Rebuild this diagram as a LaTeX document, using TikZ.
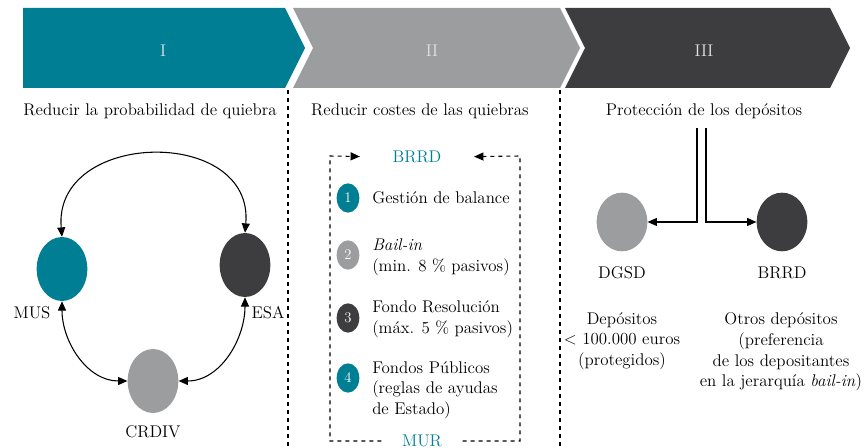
\documentclass[tikz,border=0pt]{standalone}
\usepackage{tikz}
\usetikzlibrary{shapes.geometric,arrows.meta}
\definecolor{bdeteal}{RGB}{0,126,147}
\definecolor{bdegrey}{RGB}{156,157,159}
\definecolor{bdedark}{RGB}{61,61,63}

\begin{document}
\begin{tikzpicture}[x=0.75pt,y=-0.75pt,
  >={Triangle[length=7pt,width=6pt]},
  every node/.style={font=\fontsize{12.7}{15.5}\selectfont},
  blob/.style={ellipse,minimum width=38pt,minimum height=48pt,inner sep=0pt},
  numdot/.style={ellipse,minimum width=17pt,minimum height=22pt,inner sep=0pt,
                 text=white,font=\fontsize{11}{13}\selectfont},
  bandlabel/.style={text=white!88!black},
  item/.style={anchor=west,align=left,inner sep=0pt},
  link/.style={line width=0.8pt},
  sepline/.style={dashed,line width=0.8pt}]
  \useasboundingbox (0,0) rectangle (864,448);
  % bands
  \fill[bdeteal] (23,8) -- (285,8) -- (305,48) -- (285,88) -- (23,88) -- cycle;
  \fill[bdegrey] (293,8) -- (560,8) -- (580,48) -- (560,88) -- (293,88) -- (313,48) -- cycle;
  \fill[bdedark] (565,8) -- (830,8) -- (850,48) -- (830,88) -- (565,88) -- (585,48) -- cycle;
  \node[bandlabel] (b1) at (163,51) {I};
  \node[bandlabel] (b2) at (432,51) {II};
  \node[bandlabel] (b3) at (704,51) {III};
  \draw[sepline] (288,90) -- (288,448);
  \draw[sepline] (560,90) -- (560,448);
  \node (s1) at (150,111) {Reducir la probabilidad de quiebra};
  \node (s2) at (420,111) {Reducir costes de las quiebras};
  \node (s3) at (704,111) {Protección de los depósitos};

  % I
  \node[blob,fill=bdeteal] (mus) at (62,269) {};
  \node[blob,fill=bdedark] (esa) at (245,265) {};
  \node[blob,fill=bdegrey] (crdiv) at (153,381) {};
  \node (musl) at (32,313) {MUS};
  \node (esal) at (268,313) {ESA};
  \node (crdivl) at (153,432) {CRDIV};
  \draw[link,<->] (mus.north) to[out=95,in=85,looseness=1.5] (esa.north);
  \draw[link,<->] (mus.south) to[out=-90,in=180] (crdiv.west);
  \draw[link,<->] (esa.south) to[out=-90,in=0] (crdiv.east);

  % II
  \node[text=bdeteal] (brrd) at (417,157) {BRRD};
  \node[text=bdeteal] (mur) at (422,441) {MUR};
  \draw[sepline,->,shorten <=12pt,shorten >=21pt]
    (mur.west) -- (330,441) -- (330,156) -- (brrd.west);
  \draw[sepline,->,shorten <=12pt,shorten >=21pt]
    (mur.east) -- (520,441) -- (520,156) -- (brrd.east);
  \foreach \i/\y/\c in {1/198/bdeteal,2/255/bdegrey,3/318/bdedark,4/378/bdeteal}
    \node[numdot,fill=\c] (n\i) at (348,\y) {\i};
  \node[item] (t1) at (372,198) {Gestión de balance};
  \node[item] (t2) at (372,257) {\emph{Bail-in}\\(min. 8 \% pasivos)};
  \node[item] (t3) at (372,319) {Fondo Resolución\\(máx. 5 \% pasivos)};
  \node[item] (t4) at (372,390) {Fondos Públicos\\(reglas de ayudas\\de Estado)};

  % III
  \node[blob,fill=bdegrey,minimum height=44pt] (dgsd) at (622,222) {};
  \node[blob,fill=bdedark,minimum height=44pt] (brrdb) at (782,222) {};
  \coordinate (pl) at (697,128);
  \coordinate (pr) at (706,128);
  \draw[link,->] (pl) |- (dgsd.east);
  \draw[link,->] (pr) |- (brrdb.west);
  \node (dgsdl) at (622,273) {DGSD};
  \node (brrdl) at (782,273) {BRRD};
  \node[align=center] (dep1) at (622,341)
    {Depósitos\\\textless{} 100.000 euros\\(protegidos)};
  \node[align=center] (dep2) at (781,352)
    {Otros depósitos\\(preferencia\\de los depositantes\\en la jerarquía \emph{bail-in})};
\end{tikzpicture}
\end{document}
